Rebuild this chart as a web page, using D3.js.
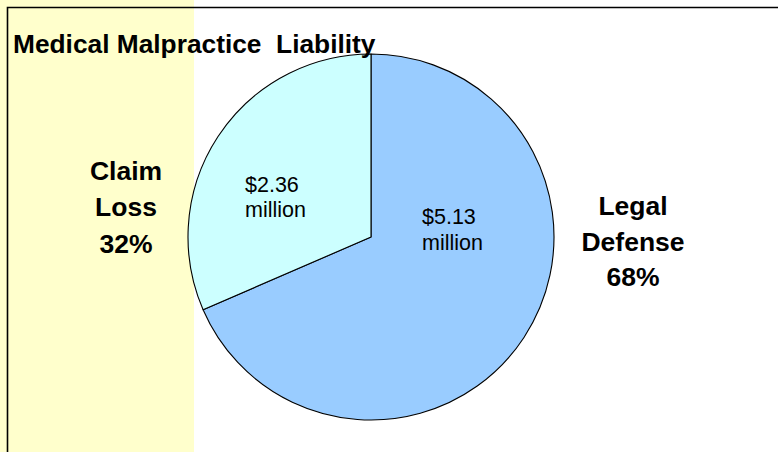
<!DOCTYPE html>
<html>
<head>
<meta charset="utf-8">
<script src="https://cdn.jsdelivr.net/npm/d3@7"></script>
<style>
  html, body { margin: 0; padding: 0; background: #ffffff; }
  svg { display: block; font-family: Arial, "Liberation Sans", sans-serif; }
</style>
</head>
<body>
<svg id="chart" width="778" height="452"></svg>
<script>
// Cost components of medical malpractice liability ($ millions)
const categories = ["Legal Defense", "Claim Loss"];
const amounts = [5.13, 2.36];
const percentLabels = ["68%", "32%"];
const amountLabels = ["$5.13", "$2.36"];
const chartTitle = "Medical Malpractice  Liability";

const width = 778, height = 452;
const svg = d3.select("#chart");

// Pale yellow band on the left
svg.append("rect")
  .attr("x", 0).attr("y", 0)
  .attr("width", 194).attr("height", height)
  .attr("fill", "#ffffcc");

// Frame lines (top and left)
svg.append("path")
  .attr("d", `M7.5,${height} V7.5 H${width}`)
  .attr("fill", "none")
  .attr("stroke", "#000")
  .attr("stroke-width", 1.6);

const cx = 371, cy = 237, radius = 183;
const colors = d3.scaleOrdinal().domain(categories).range(["#99ccff", "#ccffff"]);

const pie = d3.pie().sort(null).value(d => d.value);
const arcs = pie(categories.map((c, i) => ({ name: c, value: amounts[i] })));
const arc = d3.arc().innerRadius(0).outerRadius(radius);

const g = svg.append("g").attr("transform", `translate(${cx},${cy})`);
g.selectAll("path.slice")
  .data(arcs)
  .join("path")
  .attr("class", "slice")
  .attr("d", arc)
  .attr("fill", d => colors(d.data.name))
  .attr("stroke", "#000")
  .attr("stroke-width", 1.1)
  .attr("stroke-linejoin", "round");

// Amount labels inside slices (left aligned, two lines)
const amountPos = [[422 - cx, 224 - cy], [245 - cx, 192 - cy]];
arcs.forEach((d, i) => {
  const t = g.append("text")
    .attr("x", amountPos[i][0]).attr("y", amountPos[i][1])
    .attr("font-size", 21.5)
    .attr("fill", "#000");
  t.append("tspan").attr("x", amountPos[i][0]).text(amountLabels[i]);
  t.append("tspan").attr("x", amountPos[i][0]).attr("dy", i === 0 ? 26 : 25).text("million");
});

// Category labels outside the pie
const catLines = [
  { lines: ["Legal", "Defense", percentLabels[0]], x: 633, y: 215, dy: 35.5 },
  { lines: ["Claim", "Loss", percentLabels[1]], x: 126, y: 180, dy: 36.3 }
];
catLines.forEach(c => {
  const t = svg.append("text")
    .attr("text-anchor", "middle")
    .attr("font-size", 26.5)
    .attr("font-weight", "bold")
    .attr("fill", "#000");
  c.lines.forEach((s, j) => {
    t.append("tspan").attr("x", c.x).attr("y", c.y + j * c.dy).text(s);
  });
});

// Title
svg.append("text")
  .attr("x", 13).attr("y", 53)
  .attr("font-size", 26.3)
  .attr("font-weight", "bold")
  .attr("fill", "#000")
  .attr("xml:space", "preserve")
  .style("white-space", "pre")
  .text(chartTitle);
</script>
</body>
</html>
